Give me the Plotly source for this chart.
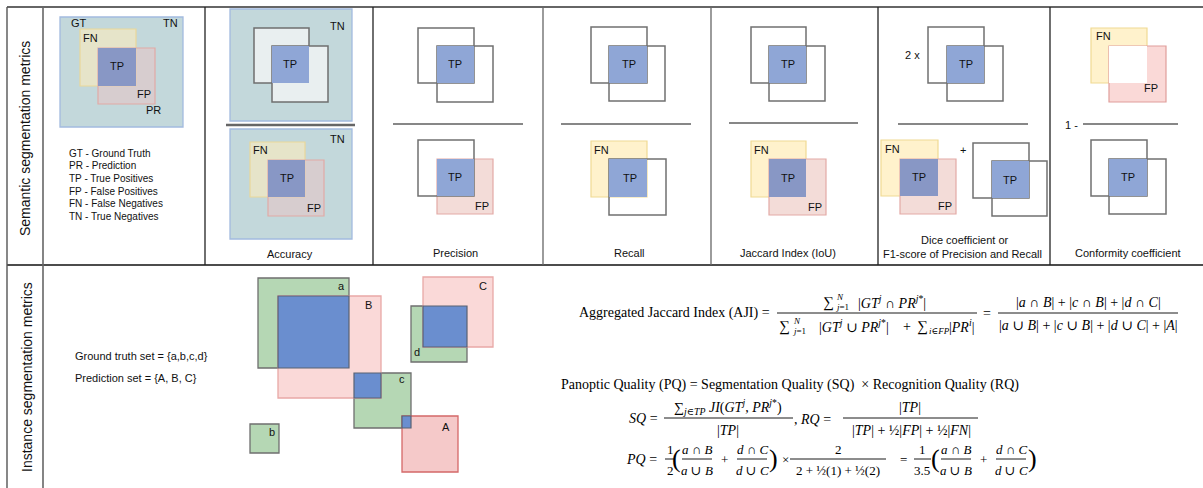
import plotly.graph_objects as go

W, H = 1203, 488
SANS = "Liberation Sans, Arial, sans-serif"
SERIF = "Liberation Serif, DejaVu Serif, serif"

# ---------------- Semantic segmentation panel geometry (x0, y0, x1, y1) ----------------
tn_boxes = [(60, 17, 183, 127), (230, 9, 352, 121), (230, 129, 352, 239)]
acc_inner_boxes = [(254, 28, 309, 83), (272, 46, 328, 102)]
fn_on_tn_boxes = [(80, 29, 136, 86), (250, 142, 305, 197)]
fp_on_tn_boxes = [(98, 48, 155, 104), (268, 160, 324, 216)]
fn_boxes = [(591, 141, 647, 197), (751, 141, 806, 197), (881, 140, 938, 196), (1091, 28, 1147, 83)]
fp_boxes = [(437, 159, 493, 214), (769, 159, 826, 215), (900, 159, 956, 214)]
fp_conf_boxes = [(1109, 46, 1166, 102)]
blank_boxes = [(1109, 46, 1147, 83)]
outline_boxes = [(418, 28, 474, 83), (437, 46, 493, 102), (418, 140, 474, 196),
                 (591, 27, 647, 83), (609, 46, 665, 101), (609, 159, 666, 215),
                 (751, 27, 806, 83), (769, 46, 825, 101),
                 (928, 27, 984, 83), (947, 46, 1003, 101),
                 (973, 143, 1029, 198), (992, 161, 1047, 216),
                 (1091, 140, 1147, 196), (1109, 159, 1166, 214)]
tp_dark_boxes = [(98, 48, 136, 86), (268, 160, 305, 197), (769, 159, 806, 197), (900, 159, 938, 196)]
tp_boxes = [(272, 46, 309, 83), (437, 46, 474, 83), (437, 159, 474, 196),
            (609, 46, 647, 83), (609, 159, 647, 197), (769, 46, 806, 83),
            (947, 46, 984, 83), (992, 161, 1029, 198), (1109, 159, 1147, 196)]

fraction_rules = [(226, 355, 125), (393, 523, 124), (561, 691, 124), (729, 858, 123), (898, 1028, 124), (1083, 1178, 124)]

box_labels = ["GT", "TN", "FN", "TP", "FP", "PR",
              "TN", "TP", "TN", "FN", "TP", "FP",
              "TP", "TP", "FP",
              "TP", "FN", "TP",
              "TP", "FN", "TP", "FP",
              "2 x", "TP", "FN", "TP", "FP", "+", "TP",
              "FN", "FP", "1 -", "TP"]
box_label_x = [79, 170, 90, 117, 144, 153,
               337, 290, 337, 260, 287, 314,
               455, 455, 482,
               629, 601, 630,
               788, 761, 788, 815,
               912, 966, 892, 919, 945, 963, 1010,
               1103, 1151, 1071, 1128]
box_label_y = [23, 23, 38, 66, 94, 110,
               26, 64, 139, 150, 178, 208,
               64, 177, 206,
               64, 150, 178,
               64, 150, 178, 207,
               55, 64, 149, 177, 206, 150, 180,
               36, 88, 125, 177]

legend_lines = ["GT - Ground Truth", "PR - Prediction", "TP - True Positives",
                "FP - False Positives", "FN - False Negatives", "TN - True Negatives"]
legend_y = [153, 165, 178, 191, 203, 216]

captions = ["Accuracy", "Precision", "Recall", "Jaccard Index (IoU)", "Dice coefficient or",
            "F1-score of Precision and Recall", "Conformity coefficient"]
caption_x = [290, 455, 629, 788, 965, 962, 1128]
caption_y = [254, 253, 253, 253, 240, 254, 253]

# ---------------- Instance segmentation geometry ----------------
gt_names = ["a", "b", "c", "d"]
gt_boxes = [(258, 278, 349, 368), (250, 424, 279, 453), (354, 373, 411, 428), (411, 306, 467, 362)]
gt_label_xy = [(341, 286), (272, 432), (402, 379), (417, 352)]
pred_names = ["A", "B", "C"]
pred_boxes = [(402, 416, 458, 472), (278, 296, 381, 398), (423, 277, 493, 347)]
pred_label_xy = [(446, 427), (368, 305), (483, 286)]
pred_is_fp = [True, False, False]

# ---------------- Table grid ----------------
col_lines_top = [205, 373, 543, 711, 878, 1050]

fig = go.Figure()
fig.add_trace(go.Scatter(x=[0, W], y=[0, H], mode="markers", marker=dict(opacity=0),
                         hoverinfo="skip", showlegend=False))


def rect(box, fill, line, width=1.2):
    x0, y0, x1, y1 = box
    fig.add_shape(type="rect", xref="x", yref="y", x0=x0, y0=y0, x1=x1, y1=y1,
                  fillcolor=fill, line=dict(color=line, width=width), layer="above")


def seg(x0, y0, x1, y1, color="#000", width=1.0):
    fig.add_shape(type="line", xref="x", yref="y", x0=x0, y0=y0, x1=x1, y1=y1,
                  line=dict(color=color, width=width), layer="above")


def txt(x, y, s, size=11, anchor="center", family=SANS, color="#111", angle=0):
    fig.add_annotation(x=x, y=y, xref="x", yref="y", text=s, showarrow=False,
                       xanchor=anchor, yanchor="middle", textangle=angle,
                       font=dict(family=family, size=size, color=color), borderpad=0)


# grid
seg(7, 7, W, 7, "#333", 1.6)
seg(7, 265, W, 265, "#111", 1.3)
seg(7, 7, 7, H, "#555", 1.4)
seg(43, 7, 43, H, "#666", 1.6)
for cx in col_lines_top:
    seg(cx, 7, cx, 265, "#222" if cx in (205, 373, 878, 1050) else "#666", 1.3)

txt(25, 139, "Semantic segmentation metrics", 14, angle=-90)
txt(27, 377, "Instance segmentation metrics", 14, angle=-90)

# semantic boxes
for b in tn_boxes:
    rect(b, "#c3d8db", "#a3badf", 1.3)
for b in acc_inner_boxes:
    rect(b, "#e9eff0", "#6f6f6f", 1.5)
for b in fn_on_tn_boxes:
    rect(b, "#e6e4c9", "#e9d89a", 1.2)
for b in fp_on_tn_boxes:
    rect(b, "rgba(232,196,196,0.55)", "#e2aaa6", 1.2)
for b in fn_boxes:
    rect(b, "#fff2cc", "#f0da93", 1.2)
for b in fp_boxes:
    rect(b, "#f3dcd8", "#e3aaa6", 1.2)
for b in fp_conf_boxes:
    rect(b, "#fad9d7", "#e09e9b", 1.2)
for b in blank_boxes:
    rect(b, "#ffffff", "rgba(0,0,0,0)", 0)
for b in outline_boxes:
    rect(b, "rgba(0,0,0,0)", "#707070", 1.5)
for b in tp_dark_boxes:
    rect(b, "#8897c5", "rgba(0,0,0,0)", 0)
for b in tp_boxes:
    rect(b, "#8fa6d6", "rgba(0,0,0,0)", 0)

x0, x1, y = fraction_rules[0]
seg(x0, y, x1, y, "#666", 2.4)
for x0, x1, y in fraction_rules[1:]:
    seg(x0, y, x1, y, "#111", 1.1)

for s, x, y in zip(box_labels, box_label_x, box_label_y):
    txt(x, y, s, 11)
for s, y in zip(legend_lines, legend_y):
    txt(68, y, s, 10, anchor="left")
for s, x, y in zip(captions, caption_x, caption_y):
    txt(x, y, s, 11)

# instance boxes
for b in gt_boxes:
    rect(b, "#b5d7b4", "#6f6f6f", 1.3)
for b, fp in zip(pred_boxes, pred_is_fp):
    if fp:
        rect(b, "#f5c9c9", "#d46868", 1.3)
    else:
        rect(b, "#fad9d8", "#e9a8a6", 1.3)
for g in gt_boxes:
    for p in pred_boxes:
        ix0, iy0 = max(g[0], p[0]), max(g[1], p[1])
        ix1, iy1 = min(g[2], p[2]), min(g[3], p[3])
        if ix1 > ix0 and iy1 > iy0:
            rect((ix0, iy0, ix1, iy1), "#6a8ecf", "#596273", 1.2)
for s, (x, y) in zip(gt_names, gt_label_xy):
    txt(x, y, s, 11)
for s, (x, y) in zip(pred_names, pred_label_xy):
    txt(x, y, s, 11)

txt(74, 356, "Ground truth set = {a,b,c,d}", 11, anchor="left")
txt(74, 378, "Prediction set = {A, B, C}", 11, anchor="left")

# ---------------- formulas ----------------
M = 14
S = 9


def m(x, y, s, size=M, anchor="left"):
    txt(x, y, s, size, anchor=anchor, family=SERIF, color="#000")


# AJI
m(578, 313, "Aggregated Jaccard Index (AJI) =")
m(828, 302, "∑", 15, "center")
m(835, 297, "<i>N</i>", S)
m(835, 307, "<i>j</i>=1", S)
m(892, 302, "|<i>GT</i><sup><i>j</i></sup> ∩ <i>PR</i><sup><i>j</i>*</sup>|", M, "center")
seg(777, 313, 977, 313, "#000", 0.9)
m(784, 326, "∑", 15, "center")
m(792, 321, "<i>N</i>", S)
m(792, 331, "<i>j</i>=1", S)
m(854, 326, "|<i>GT</i><sup><i>j</i></sup> ∪ <i>PR</i><sup><i>j</i>*</sup>|", M, "center")
m(907, 326, "+", M, "center")
m(922, 326, "∑", 15, "center")
m(928, 331, "<i>i</i>∈<i>FP</i>", S)
m(961, 326, "|<i>PR</i><sup><i>i</i></sup>|", M, "center")
m(987, 313, "=", M, "center")
m(1088, 302, "|<i>a</i> ∩ <i>B</i>| + |<i>c</i> ∩ <i>B</i>| + |<i>d</i> ∩ <i>C</i>|", M, "center")
m(1088, 325, "|<i>a</i> ∪ <i>B</i>| + |<i>c</i> ∪ <i>B</i>| + |<i>d</i> ∪ <i>C</i>| + |<i>A</i>|", M, "center")
seg(998, 313, 1178, 313, "#000", 0.9)

# PQ
m(560, 385, "Panoptic Quality (PQ) = Segmentation Quality (SQ)  × Recognition Quality (RQ)")
m(628, 418, "<i>SQ</i> =")
m(728, 407, "∑<sub><i>j</i>∈<i>TP</i></sub> <i>JI</i>(<i>GT</i><sup><i>j</i></sup>, <i>PR</i><sup><i>j</i>*</sup>)", M, "center")
m(728, 430, "|<i>TP</i>|", M, "center")
seg(664, 418, 793, 418, "#000", 0.9)
m(793, 419, ", <i>RQ</i> =")
m(910, 407, "|<i>TP</i>|", M, "center")
m(911, 430, "|<i>TP</i>| + ½|<i>FP</i>| + ½|<i>FN</i>|", M, "center")
seg(843, 418, 978, 418, "#000", 0.9)

F = 13
P = 26
yb = 459
m(625, yb, "<i>PQ</i> =")
m(670, yb - 10, "1", F, "center")
m(670, yb + 11, "2", F, "center")
seg(665, yb, 675, yb, "#000", 0.9)
m(676, yb - 1, "(", P, "center")
m(697, yb - 10, "<i>a</i> ∩ <i>B</i>", F, "center")
m(697, yb + 11, "<i>a</i> ∪ <i>B</i>", F, "center")
seg(682, yb, 712, yb, "#000", 0.9)
m(724, yb, "+", F, "center")
m(752, yb - 10, "<i>d</i> ∩ <i>C</i>", F, "center")
m(752, yb + 11, "<i>d</i> ∪ <i>C</i>", F, "center")
seg(737, yb, 767, yb, "#000", 0.9)
m(773, yb - 1, ")", P, "center")
m(785, yb, "×", F, "center")
m(838, yb - 10, "2", F, "center")
m(838, yb + 11, "2 + ½(1) + ½(2)", F, "center")
seg(790, yb, 886, yb, "#000", 0.9)
m(903, yb, "=", F, "center")
m(922, yb - 10, "1", F, "center")
m(922, yb + 11, "3.5", F, "center")
seg(914, yb, 931, yb, "#000", 0.9)
m(935, yb - 1, "(", P, "center")
m(956, yb - 10, "<i>a</i> ∩ <i>B</i>", F, "center")
m(956, yb + 11, "<i>a</i> ∪ <i>B</i>", F, "center")
seg(941, yb, 971, yb, "#000", 0.9)
m(983, yb, "+", F, "center")
m(1011, yb - 10, "<i>d</i> ∩ <i>C</i>", F, "center")
m(1011, yb + 11, "<i>d</i> ∪ <i>C</i>", F, "center")
seg(996, yb, 1026, yb, "#000", 0.9)
m(1032, yb - 1, ")", P, "center")

fig.update_layout(
    width=W, height=H, margin=dict(l=0, r=0, t=0, b=0),
    paper_bgcolor="white", plot_bgcolor="white", showlegend=False,
    xaxis=dict(range=[0, W], visible=False, fixedrange=True),
    yaxis=dict(range=[H, 0], visible=False, fixedrange=True),
)
fig.write_html("out.html", config={"displayModeBar": False},
               post_script="document.body.style.margin='0';document.body.style.padding='0';document.body.style.overflow='hidden';")
